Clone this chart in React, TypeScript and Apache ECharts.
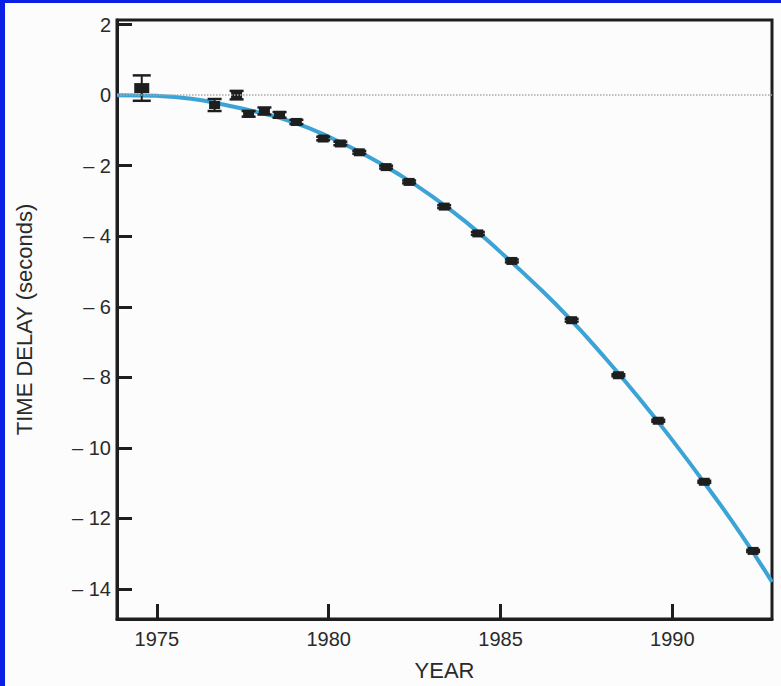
import React, { useEffect, useRef } from "react";
import * as echarts from "echarts";

// Fitted curve
const curveYears = [1973.84, 1975, 1976, 1977, 1978, 1979, 1980, 1981, 1982, 1983, 1984, 1985, 1986, 1987, 1988, 1989, 1990, 1991, 1992, 1992.9];
const curveDelay = [0.0, -0.02, -0.1, -0.28, -0.5, -0.78, -1.18, -1.66, -2.22, -2.86, -3.6, -4.45, -5.35, -6.32, -7.4, -8.55, -9.78, -11.08, -12.45, -13.8];

// Measured points with error bars
const pointYears = [1974.56, 1976.68, 1977.32, 1977.67, 1978.13, 1978.57, 1979.06, 1979.84, 1980.34, 1980.89, 1981.67, 1982.34, 1983.36, 1984.34, 1985.33, 1987.07, 1988.43, 1989.59, 1990.93, 1992.35];
const pointDelay = [0.2, -0.28, 0.0, -0.53, -0.45, -0.56, -0.76, -1.23, -1.37, -1.62, -2.04, -2.46, -3.16, -3.92, -4.7, -6.38, -7.94, -9.23, -10.96, -12.92];
const pointError = [0.36, 0.17, 0.12, 0.08, 0.1, 0.08, 0.06, 0.05, 0.05, 0.04, 0.04, 0.04, 0.04, 0.04, 0.04, 0.04, 0.03, 0.03, 0.03, 0.03];

// Tick values
const xTicks = [1975, 1980, 1985, 1990];
const yTicks = [-14, -12, -10, -8, -6, -4, -2, 0, 2];

const FONT = "'Liberation Sans', Arial, Helvetica, sans-serif";
const INK = "#1d1f1f";

export default function App() {
  const ref = useRef<HTMLDivElement>(null);

  useEffect(() => {
    if (!ref.current) return;
    const chart = echarts.init(ref.current, undefined, { renderer: "svg" });

    const curveData = curveYears.map((y, i) => [y, curveDelay[i]]);
    const pointData = pointYears.map((y, i) => [y, pointDelay[i], pointError[i]]);

    chart.setOption({
      animation: false,
      backgroundColor: "#fbfcfb",
      grid: {
        left: 110,
        top: 17,
        right: 9,
        bottom: 59,
        show: true,
        borderColor: INK,
        borderWidth: 3,
        backgroundColor: "transparent",
      },
      xAxis: {
        type: "value",
        min: 1973.84,
        max: 1992.9,
        name: "YEAR",
        nameLocation: "middle",
        nameGap: 40,
        nameTextStyle: { fontFamily: FONT, fontSize: 22, color: "#2a2a2a" },
        axisLine: { show: true, onZero: false, lineStyle: { color: INK, width: 3 } },
        axisTick: {
          show: true,
          inside: true,
          length: 15,
          customValues: xTicks,
          lineStyle: { color: INK, width: 3 },
        },
        axisLabel: {
          show: true,
          customValues: xTicks,
          margin: 10,
          fontFamily: FONT,
          fontSize: 20,
          color: "#2a2a2a",
          formatter: (v: number) => String(v),
        },
        splitLine: { show: false },
      },
      yAxis: {
        type: "value",
        min: -14.85,
        max: 2.13,
        name: "TIME DELAY (seconds)",
        nameLocation: "middle",
        nameGap: 82,
        nameRotate: 90,
        nameTextStyle: { fontFamily: FONT, fontSize: 22, color: "#2a2a2a" },
        axisLine: { show: true, onZero: false, lineStyle: { color: INK, width: 3 } },
        axisTick: {
          show: true,
          inside: true,
          length: 15,
          customValues: yTicks,
          lineStyle: { color: INK, width: 3 },
        },
        axisLabel: {
          show: true,
          customValues: yTicks,
          margin: 6,
          fontFamily: FONT,
          fontSize: 20,
          color: "#2a2a2a",
          formatter: (v: number) => (v < 0 ? "\u2013 " + Math.abs(v) : String(v)),
        },
        splitLine: { show: false },
      },
      series: [
        {
          type: "line",
          data: curveData,
          smooth: true,
          symbol: "none",
          lineStyle: { color: "#3ba3d6", width: 4 },
          z: 2,
          markLine: {
            silent: true,
            symbol: "none",
            label: { show: false },
            lineStyle: { color: "#a9a9a9", type: "dotted", width: 1.5 },
            data: [{ yAxis: 0 }],
          },
        },
        {
          type: "custom",
          data: pointData,
          z: 3,
          renderItem: (params: any, api: any) => {
            const x = api.value(0);
            const y = api.value(1);
            const e = api.value(2);
            const c = api.coord([x, y]);
            const t = api.coord([x, y + e]);
            const b = api.coord([x, y - e]);
            const big = e > 0.3;
            const capHalf = big ? 9 : 7;
            const w = big ? 15 : 11;
            const h = big ? 10 : 8;
            return {
              type: "group",
              children: [
                {
                  type: "line",
                  shape: { x1: c[0], y1: t[1], x2: c[0], y2: b[1] },
                  style: { stroke: INK, lineWidth: 2 },
                },
                {
                  type: "line",
                  shape: { x1: c[0] - capHalf, y1: t[1], x2: c[0] + capHalf, y2: t[1] },
                  style: { stroke: INK, lineWidth: 2.5 },
                },
                {
                  type: "line",
                  shape: { x1: c[0] - capHalf, y1: b[1], x2: c[0] + capHalf, y2: b[1] },
                  style: { stroke: INK, lineWidth: 2.5 },
                },
                {
                  type: "rect",
                  shape: { x: c[0] - w / 2, y: c[1] - h / 2, width: w, height: h },
                  style: { fill: INK },
                },
              ],
            };
          },
        },
      ],
    });

    return () => chart.dispose();
  }, []);

  return (
    <div
      style={{
        position: "fixed",
        left: 0,
        top: 0,
        width: 781,
        height: 686,
        background: "#0b1ee6",
        overflow: "hidden",
      }}
    >
      <div
        ref={ref}
        style={{ position: "absolute", left: 5, top: 3, width: 776, height: 683 }}
      />
    </div>
  );
}
